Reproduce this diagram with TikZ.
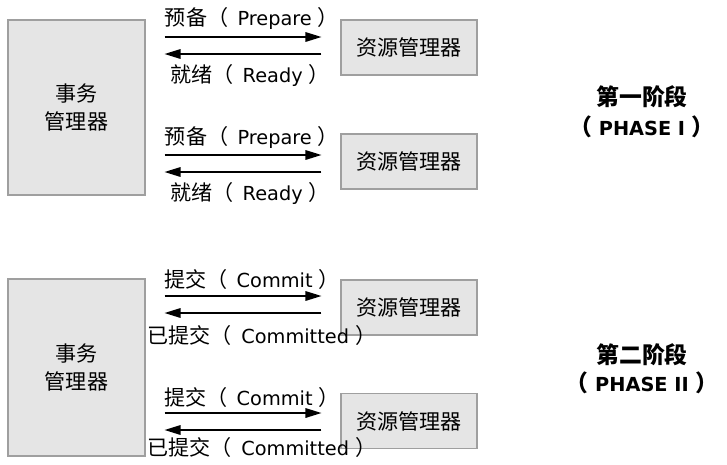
\documentclass[tikz,border=0pt]{standalone}
\usepackage{fontspec}
\setmainfont{DejaVu Sans}
\newfontfamily\cjk{Noto Sans CJK SC}
\usetikzlibrary{arrows.meta}
\newcommand{\zh}[1]{{\cjk\fontsize{12}{14}\selectfont #1}}
\newcommand{\zhb}[1]{{\cjk\bfseries\fontsize{13}{15}\selectfont #1}}

\tikzset{
  mgr/.style={draw=gray!75, fill=gray!20, line width=0.6pt, align=center,
    font=\cjk\fontsize{12}{16}\selectfont},
  tmbox/.style={mgr, minimum width=2.74cm, minimum height=3.5cm},
  rmbox/.style={mgr, minimum width=2.72cm, minimum height=1.1cm},
  msg/.style={line width=0.9pt, -{Triangle[length=3.2mm,width=1.9mm]},
    shorten <=0.38cm, shorten >=0.38cm},
  lbl/.style={font=\fontsize{11}{13}\selectfont, inner sep=0pt},
  phase/.style={font=\bfseries\fontsize{11}{13}\selectfont, inner sep=0pt}
}

\begin{document}
\begin{tikzpicture}[x=0.02cm,y=-0.02cm]
\useasboundingbox (0,0) rectangle (727,464);

% phase one
\node[tmbox] (tm1) at (76.5,107.5) {事务\\管理器};
\node[rmbox] (rm1) at (409,47.5) {资源管理器};
\node[rmbox] (rm2) at (409,161.5) {资源管理器};

\draw[msg] (tm1.east |- 0,37) -- (rm1.west |- 0,37);
\draw[msg] (rm1.west |- 0,54) -- (tm1.east |- 0,54);
\draw[msg] (tm1.east |- 0,155) -- (rm2.west |- 0,155);
\draw[msg] (rm2.west |- 0,172) -- (tm1.east |- 0,172);

\node[lbl] (prep1) at (252,18) {\zh{预备（}\, Prepare \zh{）}};
\node[lbl] (ready1) at (250,75) {\zh{就绪（}\, Ready \zh{）}};
\node[lbl] (prep2) at (252,137) {\zh{预备（}\, Prepare \zh{）}};
\node[lbl] (ready2) at (250,193) {\zh{就绪（}\, Ready \zh{）}};

\node[phase] (ph1) at (642,97) {\zhb{第一阶段}};
\node[phase] (ph1en) at (642,127) {\zhb{（} PHASE I \zhb{）}};

% phase two
\node[tmbox, minimum height=3.54cm] (tm2) at (76.5,367.5) {事务\\管理器};
\node[rmbox] (rm3) at (409,307.5) {资源管理器};
\node[rmbox] (rm4) at (409,421) {资源管理器};

\draw[msg] (tm2.east |- 0,296) -- (rm3.west |- 0,296);
\draw[msg] (rm3.west |- 0,313) -- (tm2.east |- 0,313);
\draw[msg] (tm2.east |- 0,413) -- (rm4.west |- 0,413);
\draw[msg] (rm4.west |- 0,430) -- (tm2.east |- 0,430);

\node[lbl] (com3) at (252,279) {\zh{提交（}\, Commit \zh{）}};
\node[lbl] (done3) at (262,335) {\zh{已提交（}\, Committed \zh{）}};
\node[lbl] (com4) at (252,397) {\zh{提交（}\, Commit \zh{）}};
\node[lbl] (done4) at (262,447) {\zh{已提交（}\, Committed \zh{）}};

\node[phase] (ph2) at (642,355) {\zhb{第二阶段}};
\node[phase] (ph2en) at (642,383) {\zhb{（} PHASE II \zhb{）}};
\end{tikzpicture}
\end{document}
